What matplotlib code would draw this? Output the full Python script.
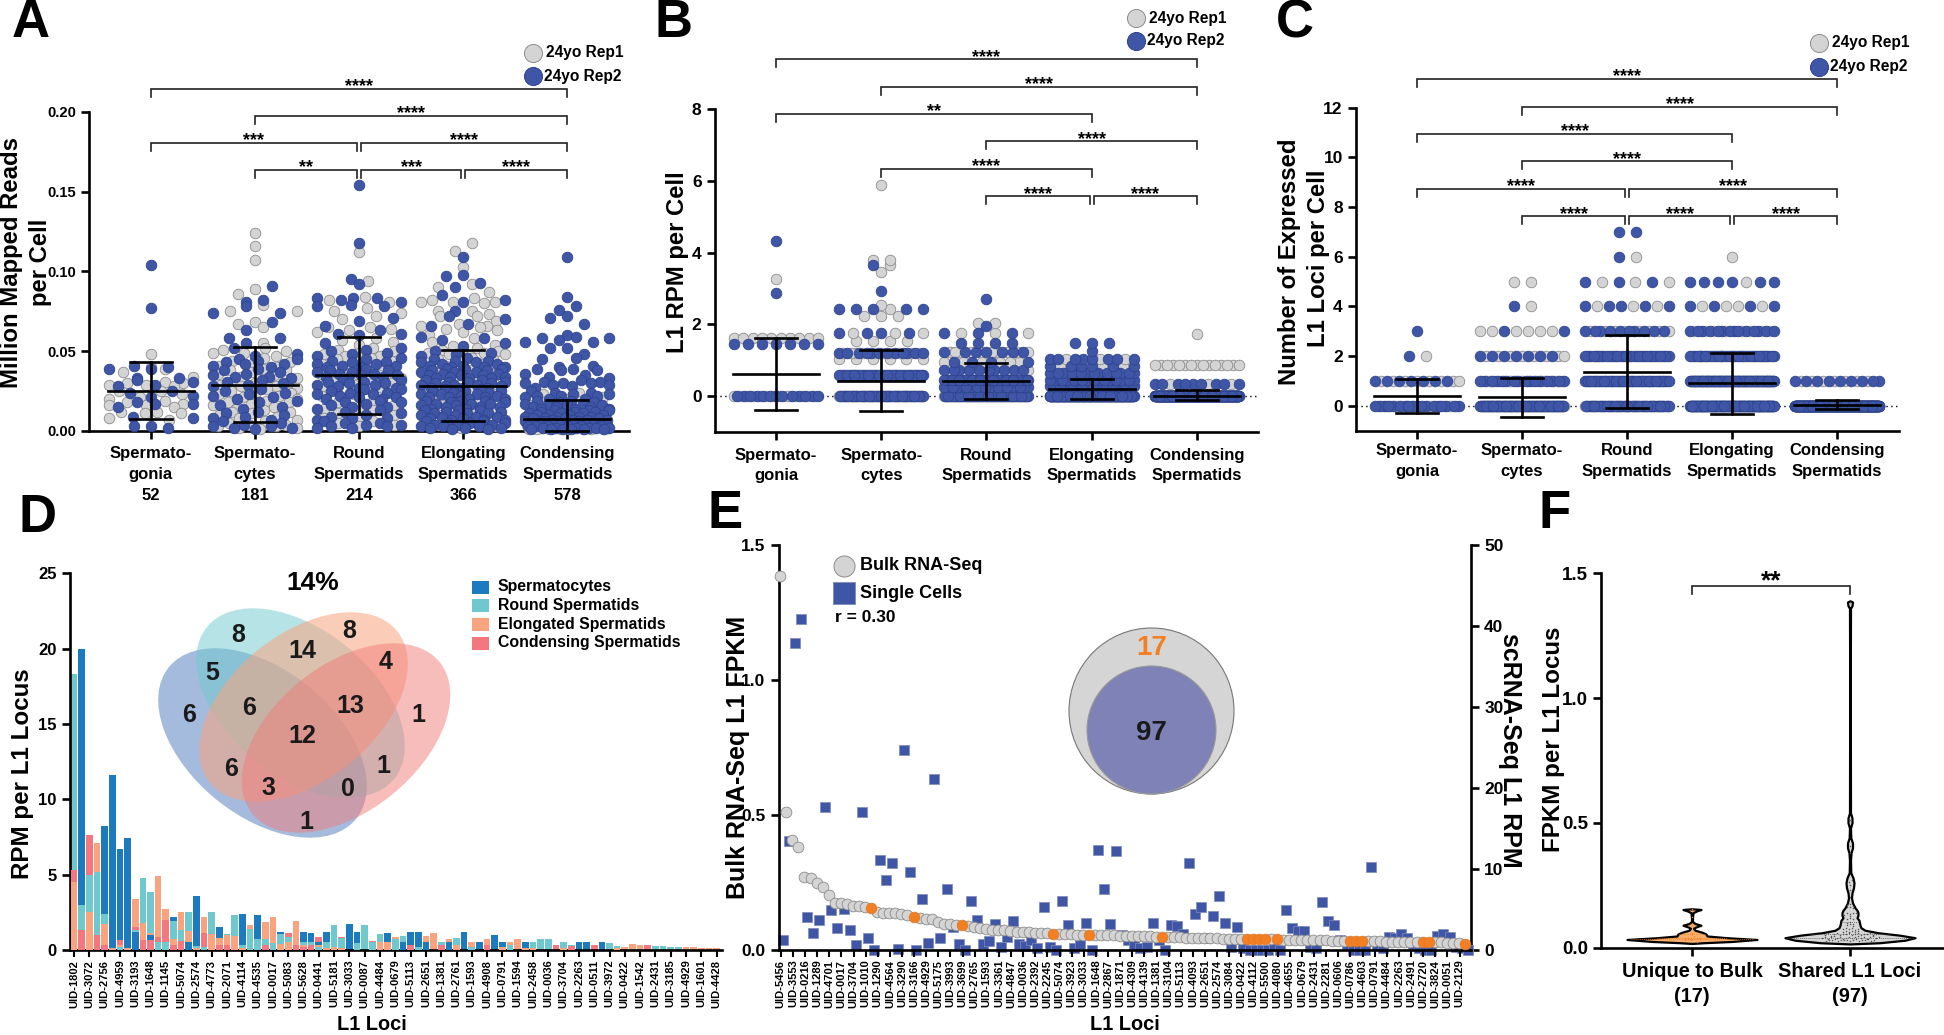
import numpy as np
import matplotlib
matplotlib.use("Agg")
import matplotlib.pyplot as plt
from matplotlib.patches import Ellipse, Rectangle

plt.rcParams['font.family'] = ['Liberation Sans', 'DejaVu Sans']
plt.rcParams['font.weight'] = 'bold'
plt.rcParams['axes.labelweight'] = 'bold'

W, H = 1944, 1035
GREY, GREY_E, BLUE, BLUE_E = '#D4D4D4', '#8C8C8C', '#3F56A6', '#2F4490'
ORANGE = '#F37F22'
C_SC, C_RS, C_ES, C_CS = '#1B7BBE', '#6EC8CE', '#F9A47F', '#F4777F'

STAGES = ['Spermato-\ngonia', 'Spermato-\ncytes', 'Round\nSpermatids', 'Elongating\nSpermatids', 'Condensing\nSpermatids']
STAGE_N = [52, 181, 214, 366, 578]

# ---------------- Panel A ----------------
A_SG_R1 = [.048, .040, .039, .037, .034, .031, .030, .030, .029, .029, .028, .025, .025, .023, .021,
           .020, .019, .018, .017, .016, .016, .015, .012, .012, .011, .011, .008, .007]
A_SG_R2 = [.104, .077, .041, .040, .039, .039, .033, .033, .032, .031, .029, .028, .025, .024, .022,
           .021, .018, .017, .017, .015, .009, .008, .003, .003, .002]
A_SC_R1 = [.124, .116, .107, .089, .086, .079, .075, .075, .068, .067, .065, .055, .052, .051, .050, .049, .049, .047,
           .046, .044, .043, .042, .041, .040, .039, .038, .038, .037, .036, .035, .034, .033, .032, .031, .031, .030,
           .029, .028, .028, .027, .026, .025, .024, .023, .023, .022, .021, .020, .019, .018, .018, .017, .016, .015,
           .014, .013, .012, .012, .011, .010, .009, .008, .007, .006, .005, .004, .004, .003, .003, .002, .002, .001]
A_SC_R2 = [.091, .082, .081, .078, .074, .074, .068, .063, .058, .058, .055, .052, .048, .047, .045, .045, .044, .043,
           .042, .042, .041, .040, .039, .038, .037, .036, .035, .034, .034, .033, .032, .031, .030, .029, .028, .026,
           .025, .024, .023, .022, .021, .020, .019, .018, .016, .015, .014, .012, .011, .010, .009, .008, .007, .006,
           .005, .004, .003, .003, .002, .002, .001]
A_RS_R1 = [.112, .094, .084, .082, .081, .077, .075, .074, .072, .070, .065, .065, .064, .063, .062, .058, .057, .056,
           .054, .052, .051, .050, .049, .048, .047, .047, .046, .045, .044, .043, .042, .041, .040, .039, .038, .037,
           .036, .036, .035, .034, .033, .032, .031, .030, .029, .028, .027, .026, .025, .024, .023, .022, .021, .020,
           .019, .018, .016, .015, .014, .013, .011, .010, .009, .008, .006, .005, .004, .003]
A_RS_R2 = [.154, .118, .095, .092, .083, .083, .083, .082, .081, .079, .078, .078, .071, .069, .066, .063, .061, .061,
           .060, .055, .052, .051, .050, .049, .048, .047, .046, .045, .044, .043, .043, .042, .042, .041, .041, .040,
           .040, .039, .038, .038, .037, .037, .036, .036, .035, .035, .034, .034, .033, .032, .032, .031, .031, .030,
           .030, .029, .029, .028, .027, .027, .026, .026, .025, .024, .024, .023, .023, .022, .021, .021, .020, .020,
           .019, .018, .018, .017, .016, .015, .015, .014, .013, .012, .011, .010, .009, .008, .008, .007, .006, .005,
           .005, .004, .004, .003, .003, .002, .002]
A_ES_R1 = [.118, .113, .103, .092, .090, .087, .083, .082, .081, .081, .081, .080, .075, .075, .073, .072, .072, .069,
           .067, .066, .066, .065, .064, .063, .062, .060, .058, .056, .054, .053, .052, .051, .050, .050, .049, .049,
           .048, .048, .047, .046, .045, .045, .044, .043, .042, .041, .040, .038, .037, .036, .035, .034, .033, .032,
           .030, .029, .027, .026, .024, .023, .021, .020, .018, .016, .014, .012, .010, .008, .006, .004, .003, .002]
A_ES_R2 = [.109, .098, .097, .093, .090, .085, .082, .081, .075, .072, .070, .067, .066, .059, .058, .057, .055, .053,
           .050, .049, .048, .047, .046, .045, .044, .044, .043, .043, .042, .042, .041, .041, .040, .040, .040, .039,
           .039, .039, .038, .038, .037, .037, .037, .036, .036, .035, .035, .035, .034, .034, .033, .033, .033, .032,
           .032, .031, .031, .031, .030, .030, .029, .029, .029, .028, .028, .027, .027, .027, .026, .026, .025, .025,
           .025, .024, .024, .023, .023, .023, .022, .022, .021, .021, .021, .020, .020, .019, .019, .019, .018, .018,
           .017, .017, .017, .016, .016, .015, .015, .015, .014, .014, .013, .013, .013, .012, .012, .011, .011, .011,
           .010, .010, .009, .009, .009, .008, .008, .007, .007, .007, .006, .006, .005, .005, .005, .004, .004, .004,
           .003, .003, .003, .002, .002, .002, .001, .001]
A_CS_R1 = [.024, .023, .021, .020, .019, .018, .017, .017, .016, .015, .015, .014, .013, .013, .012, .012, .011, .011,
           .010, .010, .010, .009, .009, .009, .008, .008, .008, .007, .007, .007, .006, .006, .006, .006, .005, .005,
           .005, .005, .004, .004, .004, .004, .004, .003, .003, .003, .003, .003, .002, .002, .002, .002, .002, .002,
           .001, .001, .001, .001, .001, .001, .001, .001]
A_CS_R2 = [.109, .084, .078, .076, .072, .071, .067, .060, .059, .058, .058, .057, .056, .056, .052, .052, .048, .046,
           .045, .041, .040, .039, .039, .038, .038, .036, .035, .034, .033, .032, .031, .031, .030, .030, .030, .029,
           .029, .028, .027, .025, .024, .024, .023, .023, .022, .022, .022, .021, .020, .020, .019, .019, .018, .018,
           .017, .017, .017, .016, .016, .015, .015, .015, .014, .014, .014, .013, .013, .013, .012, .012, .012, .011,
           .011, .011, .010, .010, .010, .010, .009, .009, .009, .009, .008, .008, .008, .008, .007, .007, .007, .007,
           .006, .006, .006, .006, .005, .005, .005, .005, .005, .004, .004, .004, .004, .004, .003, .003, .003, .003,
           .003, .003, .002, .002, .002, .002, .002, .002, .001, .001, .001, .001, .001, .001]
A_MEAN = [.0253, .029, .035, .0284, .0073]
A_HIGH = [.043, .0524, .059, .0507, .0196]
A_LOW = [.0075, .0058, .0109, .006, .0]

# ---------------- Panel B ----------------
B_SG_LV = [0, 1.45, 1.63, 2.88, 3.27, 4.33]
B_SG_R1 = [14, 0, 10, 0, 1, 0]
B_SG_R2 = [13, 7, 0, 1, 0, 1]
B_SC_LV = [0, .58, 1.03, 1.2, 1.53, 1.75, 2.24, 2.43, 2.55, 2.93, 3.45, 3.65, 3.8, 5.87]
B_SC_R1 = [40, 20, 6, 10, 4, 3, 3, 1, 1, 0, 1, 1, 2, 1]
B_SC_R2 = [35, 25, 0, 12, 0, 4, 0, 5, 0, 1, 0, 1, 0, 0]
B_RS_LV = [0, .25, .45, .72, .95, 1.22, 1.47, 1.75, 1.97, 2.03, 2.7]
B_RS_R1 = [40, 15, 18, 8, 6, 10, 0, 3, 0, 2, 0]
B_RS_R2 = [45, 25, 28, 10, 4, 7, 4, 3, 1, 0, 1]
B_ES_LV = [0, .28, .45, .65, .85, 1.05, 1.27, 1.49]
B_ES_R1 = [110, 25, 15, 6, 3, 3, 0, 0]
B_ES_R2 = [130, 30, 20, 14, 6, 8, 1, 3]
B_CS_LV = [0, .33, .88, 1.73]
B_CS_R1 = [270, 3, 15, 1]
B_CS_R2 = [280, 9, 0, 0]
B_MEAN = [.62, .43, .43, .2, .02]
B_HIGH = [1.62, 1.29, .94, .48, .18]
B_LOW = [-.38, -.42, -.06, -.07, -.11]

# ---------------- Panel C ----------------
C_LV = [0, 1, 2, 3, 4, 5, 6, 7]
C_SG_R1 = [16, 8, 1, 0, 0, 0, 0, 0]
C_SG_R2 = [18, 7, 1, 1, 0, 0, 0, 0]
C_SC_R1 = [70, 20, 8, 6, 1, 2, 0, 0]
C_SC_R2 = [50, 16, 7, 2, 1, 0, 0, 0]
C_RS_R1 = [35, 25, 15, 8, 3, 3, 1, 0]
C_RS_R2 = [40, 35, 25, 10, 5, 3, 1, 2]
C_ES_R1 = [60, 40, 15, 8, 4, 1, 1, 0]
C_ES_R2 = [100, 80, 30, 14, 4, 6, 0, 0]
C_CS_R1 = [260, 7, 0, 0, 0, 0, 0, 0]
C_CS_R2 = [290, 9, 0, 0, 0, 0, 0, 0]
C_MEAN = [.40, .35, 1.38, .9, .04]
C_HIGH = [1.07, 1.13, 2.86, 2.12, .24]
C_LOW = [-.27, -.44, -.1, -.31, -.13]

# ---------------- Panel D ----------------
D_LABELS = ['1802', '3072', '2756', '4959', '3193', '1648', '1145', '5074', '2574', '4773', '2071', '4114', '4535',
            '0017', '5083', '5628', '0441', '5181', '3033', '0087', '4484', '0679', '5113', '2651', '1381', '2761',
            '1593', '4908', '0791', '1594', '2458', '0036', '3704', '2263', '0511', '3972', '0422', '1542', '2431',
            '3185', '4929', '1601', '4428']
D_SC = [0, 20, 0, 0, 8.25, 11.6, 6.7, 7.4, 1.2, 0, 1.0, 0, 0, 2.2, 0, .5, 3.6, 0, 0, 1.55, 0, 0, 2.4, 0, 2.35, 0, 0, 1.2,
        0, 0, 1.2, 1.15, .5, 1.2, 0, 0, 1.7, 1.2, 0, 0, 0, 1.1, 0, .55, 1.2, 1.2, .5, 0, 0, .5, 0, 1.2, 0, .5, 0, 1.0,
        .55, 0, 0, .55, 0, 0, 0, 0, 0, 0, .55, .55, 0, .5, 0, 0, 0, 0, 0, 0, 0, 0, 0, 0, 0, 0, 0, 0, 0]
D_RS = [18.3, 3.0, 5.0, 5.2, 2.4, 0, .2, 0, 1.3, 4.75, 3.85, .5, .5, 1.9, 1.3, 2.55, .25, .2, 2.55, .8, 1.05, 2.3, .3,
        1.4, .75, .7, .45, 1.05, .85, 0, .55, .5, .2, .5, 1.65, .8, 0, .45, 1.65, .55, 1.05, 0, .75, .95, 0, .2, 0, 0,
        .5, 0, .8, 0, .2, 0, 0, 0, 0, .3, 0, 0, .5, .7, .7, 0, .5, .3, 0, 0, 0, 0, .45, .25, 0, 0, 0, 0, .25, .25, .2,
        .2, 0, 0, 0, 0, 0]
D_ES = [4.5, 0, 2.5, 7.1, 1.7, .15, .35, .15, 3.4, 1.8, 1.1, 4.9, 2.75, .75, 2.55, 1.25, .15, 2.2, 1.05, .8, 1.0, .95,
        .15, 1.65, 0, 1.85, 2.2, .4, .55, 1.95, .3, .35, .35, .15, .2, .15, 0, 0, 0, 0, .55, .5, .85, 0, 0, 0, .95, 1.15,
        0, .7, .35, 0, .55, 0, .7, 0, .2, .55, .75, .15, .15, 0, 0, 0, .15, 0, 0, 0, 0, 0, 0, .15, .2, .4, .3, 0, 0, 0,
        0, 0, .2, .2, .15, .15, .15]
D_CS = [5.3, 1.3, 7.6, 1.0, .3, 0, .65, 0, 1.5, .65, .65, .85, 2.0, .3, .6, 0, 0, 1.15, 0, .3, .3, 0, 0, 0, 0, .3, 0, 0,
        1.15, .3, .2, .3, .85, 0, 0, .85, 0, 0, 0, .6, 0, 0, 0, 0, .3, 0, 0, 0, .3, 0, 0, 0, 0, 0, .3, 0, 0, 0, 0, 0, 0,
        0, 0, .3, 0, .25, 0, 0, .3, 0, 0, 0, 0, 0, 0, .3, 0, 0, 0, 0, 0, 0, 0, 0, 0]
D_SERIES = ['Spermatocytes', 'Round Spermatids', 'Elongated Spermatids', 'Condensing Spermatids']
VENN_COUNTS = ['8', '8', '14', '5', '4', '6', '6', '13', '1', '12', '6', '3', '0', '1', '1']

# ---------------- Panel E ----------------
E_LABELS = ['5456', '3553', '0216', '1289', '4701', '0017', '3704', '1010', '1290', '4564', '3290', '3166', '4929',
            '5175', '3993', '3699', '2765', '1593', '3361', '4847', '0036', '2392', '2245', '5074', '3923', '3033',
            '1648', '2867', '1871', '4309', '4139', '1381', '3104', '5113', '4093', '2651', '2574', '3084', '0422',
            '4112', '5500', '4080', '4655', '0679', '2431', '2281', '0606', '0786', '4603', '0791', '4484', '2263',
            '2491', '2720', '3824', '0051', '2129']
E_BULK = [1.385, .51, .407, .38, .272, .265, .25, .232, .204, .175, .173, .169, .164, .163, .16, .155, .14, .138, .138,
          .136, .133, .128, .121, .117, .116, .114, .102, .098, .096, .094, .091, .089, .086, .08, .077, .075, .074,
          .073, .072, .068, .067, .065, .062, .062, .062, .06, .059, .058, .058, .057, .057, .056, .055, .055, .054,
          .054, .053, .053, .053, .052, .052, .051, .05, .047, .049, .048, .047, .046, .045, .044, .044, .043, .043,
          .042, .042, .042, .041, .04, .04, .04, .04, .039, .039, .038, .038, .037, .037, .037, .036, .036, .036, .035,
          .035, .035, .034, .034, .034, .032, .032, .032, .031, .031, .031, .03, .03, .03, .03, .03, .028, .028, .027,
          .027, .026, .024]
E_SC = [1.2, 13.4, 37.9, 40.9, 4.1, 2.06, 3.7, 17.6, 4.9, 2.7, 5.1, 2.5, .66, 17, 1.44, 0, 11.1, 8.7, 10.8, .16, 24.7,
        9.6, 0, 6.25, .9, 21.1, 1.44, 7.5, 2.9, .7, 0, 6, 3.7, .8, 1.15, 3.2, .4, 1.65, 3.6, .8, .5, 1.2, .2, 5.3, .33, 0,
        6, 3.1, .3, .74, 3.3, 0, 12.4, 7.5, 3.2, 12.2, 1.85, 1.2, .6, .3, .4, 3.37, 1.2, 0, 3.1, 3, 2, 10.8, 4.4, 5.3, 1.5,
        4.2, 6.7, 3.3, .4, 2.9, .2, 0, 0, 0, 0, .5, 0, 5, 2.75, 2.4, 2.35, .4, .2, 5.9, 3.6, 3.1, 1.2, .8, 0, 0, 0, 10.2,
        .6, .2, 1.65, 1.45, 2, 1.45, .8, .3, 0, 0, 1.7, 2, 1.65, .4, .2, 0]
E_UNIQUE_RANK = [16, 23, 31, 46, 52, 64, 78, 79, 80, 81, 83, 95, 96, 97, 107, 108, 114]

# ---------------- Panel F ----------------
F_CATS = ['Unique to Bulk\n(17)', 'Shared L1 Loci\n(97)']
F_UNIQUE_Y = [.017, .02, .025, .033, .04, .047, .055, .062, .07, .078, .083, .09, .097, .105, .12, .14, .148, .153, .156]
F_UNIQUE_W = [0, 12, 40, 65, 35, 15, 14, 10, 3, 1.5, 4, 9, 3, .5, .5, 1, 5, 9, 0]
F_SHARED_Y = [.015, .02, .03, .04, .05, .06, .07, .08, .09, .10, .11, .12, .13, .14, .15, .16, .18, .2, .22, .24, .26,
              .28, .30, .35, .38, .40, .42, .44, .48, .5, .52, .54, .8, 1.2, 1.36, 1.37, 1.385, 1.39]
F_SHARED_W = [0, 30, 55, 65, 50, 28, 15, 11, 10, 9.5, 9, 7, 8, 8, 7, 5, 2.5, 1.5, 2, 3.5, 4, 3, .8, .5, 1, 2.5, 2.5, .8,
              .5, 2, 2, .5, .4, .4, .5, 2, 2.5, 0]


# ---------------- helpers ----------------
fig = plt.figure(figsize=(W / 100, H / 100), dpi=100, facecolor='white')


def axpx(x0, x1, ytop, ybot, **kw):
    return fig.add_axes([x0 / W, 1 - ybot / H, (x1 - x0) / W, (ybot - ytop) / H], **kw)


ov = fig.add_axes([0, 0, 1, 1], zorder=50)
ov.set_xlim(0, W)
ov.set_ylim(H, 0)
ov.axis('off')
ov.patch.set_alpha(0)


def style(ax, size=12, lw=1.9):
    for s in ('top', 'right'):
        ax.spines[s].set_visible(False)
    for s in ('left', 'bottom', 'right'):
        ax.spines[s].set_linewidth(lw)
    ax.tick_params(axis='both', width=lw, length=6, labelsize=size)
    ax.patch.set_alpha(0)


def spaced(ax, sp):
    for lab in ax.get_xticklabels():
        lab.set_linespacing(sp)


def offsets(r1, r2, binh, span=84, pitch=17):
    """Swarm layout: points in one y bin sit on a centred row; reps are mixed along the row."""
    vals = np.concatenate([r1, r2])
    rep = np.concatenate([np.zeros(len(r1)), np.ones(len(r2))]).astype(int)
    off = np.zeros(len(vals))
    bins = np.floor(vals / binh + 1e-9)
    for b in np.unique(bins):
        idx = np.where(bins == b)[0]
        keys = ((np.arange(len(idx)) + 1) * 0.618034) % 1
        idx = idx[np.argsort(keys, kind='stable')]
        n = len(idx)
        if n > 1:
            p = min(pitch, span / (n - 1))
            off[idx] = p * (np.arange(n) - (n - 1) / 2)
    return vals, rep, off


def beeswarm(ax, groups, means, highs, lows, binh, spacing):
    for i, (r1, r2) in enumerate(groups):
        vals, rep, off = offsets(np.asarray(r1, float), np.asarray(r2, float), binh)
        x = i + off / spacing
        ax.scatter(x[rep == 0], vals[rep == 0], s=58, c=GREY, edgecolors=GREY_E, linewidths=.6, zorder=3, clip_on=False)
        ax.scatter(x[rep == 1], vals[rep == 1], s=58, c=BLUE, edgecolors=BLUE_E, linewidths=.6, zorder=4, clip_on=False)
        ax.plot([i - 43 / spacing, i + 43 / spacing], [means[i]] * 2, color='k', lw=1.9, zorder=6, clip_on=False)
        for v in (highs[i], lows[i]):
            ax.plot([i - 21 / spacing, i + 21 / spacing], [v] * 2, color='k', lw=1.9, zorder=6, clip_on=False)
        ax.plot([i, i], [lows[i], highs[i]], color='k', lw=1.9, zorder=6, clip_on=False)


def bracket(x0, x1, y, stars, drop=8, size=13):
    ov.plot([x0, x0, x1, x1], [y + drop, y, y, y + drop], color='#222222', lw=1.2, solid_joinstyle='miter')
    ov.text((x0 + x1) / 2, y + 2.5, stars, ha='center', va='baseline', fontsize=size, color='k')


def rep_legend(x, y1, y2, tx):
    ov.scatter([x], [y1], s=170, c=GREY, edgecolors=GREY_E, linewidths=.7)
    ov.scatter([x], [y2], s=170, c=BLUE, edgecolors=BLUE_E, linewidths=.7)
    ov.text(tx, y1, '24yo Rep1', va='center', fontsize=11.2)
    ov.text(tx - 2, y2, '24yo Rep2', va='center', fontsize=11.2)


def letter(x, y, s):
    ov.text(x, y, s, ha='left', va='baseline', fontsize=38)


def rep(lv, ct):
    return np.repeat(lv, ct)


# ---------------- A ----------------
cA = [150.6 + 104.2 * i for i in range(5)]
axA = axpx(89, 629, 111.7, 431)
style(axA, 10.6)
axA.set_xlim((89 - cA[0]) / 104.2, (629 - cA[0]) / 104.2)
axA.set_ylim(0, .2)
axA.set_yticks([0, .05, .1, .15, .2], ['0.00', '0.05', '0.10', '0.15', '0.20'])
axA.set_xticks(range(5), [f'{s}\n{n}' for s, n in zip(STAGES, STAGE_N)], fontsize=12)
axA.tick_params(axis='x', pad=5)
spaced(axA, 1.48)
groupsA = [(A_SG_R1, A_SG_R2), (A_SC_R1, A_SC_R2), (A_RS_R1, A_RS_R2), (A_ES_R1, A_ES_R2), (A_CS_R1, A_CS_R2)]
beeswarm(axA, groupsA, A_MEAN, A_HIGH, A_LOW, .0066, 104.2)
for a, b, y, s in [(0, 4, 89, '****'), (1, 4, 116, '****')]:
    bracket(cA[a], cA[b], y, s)
bracket(cA[0], cA[2] - 2, 143, '***')
bracket(cA[2] + 2, cA[4], 143, '****')
bracket(cA[1], cA[2] - 2, 170, '**')
bracket(cA[2] + 2, cA[3] - 2, 170, '***')
bracket(cA[3] + 2, cA[4], 170, '****')
rep_legend(532.6, 53, 76, 546)
ov.text(12, 262, 'Million Mapped Reads', rotation=90, ha='center', va='center', fontsize=17.2)
ov.text(40, 262, 'per Cell', rotation=90, ha='center', va='center', fontsize=17.2)
letter(12, 37, 'A')

# ---------------- B ----------------
cB = [776 + 105.2 * i for i in range(5)]
axB = axpx(714.7, 1258, 108.7, 432.3)
style(axB, 12.5)
axB.set_xlim((714.7 - cB[0]) / 105.2, (1258 - cB[0]) / 105.2)
axB.set_ylim(-1, 8)
axB.set_yticks([0, 2, 4, 6, 8])
axB.spines['left'].set_bounds(-1, 8)
axB.set_xticks(range(5), STAGES, fontsize=12)
axB.tick_params(axis='x', pad=5)
spaced(axB, 1.48)
axB.axhline(0, color='k', lw=1, ls=(0, (1, 2.5)), zorder=1)
groupsB = [(rep(B_SG_LV, B_SG_R1), rep(B_SG_LV, B_SG_R2)), (rep(B_SC_LV, B_SC_R1), rep(B_SC_LV, B_SC_R2)),
           (rep(B_RS_LV, B_RS_R1), rep(B_RS_LV, B_RS_R2)), (rep(B_ES_LV, B_ES_R1), rep(B_ES_LV, B_ES_R2)),
           (rep(B_CS_LV, B_CS_R1), rep(B_CS_LV, B_CS_R2))]
beeswarm(axB, groupsB, B_MEAN, B_HIGH, B_LOW, .1, 105.2)
bracket(cB[0], cB[4], 59.3, '****')
bracket(cB[1], cB[4], 86.7, '****')
bracket(cB[0], cB[3], 114, '**')
bracket(cB[2], cB[4], 141.3, '****')
bracket(cB[1], cB[3], 169, '****')
bracket(cB[2], cB[3] - 2, 196.3, '****')
bracket(cB[3] + 2, cB[4], 196.3, '****')
rep_legend(1136, 18, 41, 1149)
ov.text(677, 262, 'L1 RPM per Cell', rotation=90, ha='center', va='center', fontsize=17.2)
letter(654, 37, 'B')

# ---------------- C ----------------
cC = [1417 + 105 * i for i in range(5)]
axC = axpx(1356, 1899, 107.7, 430.7)
style(axC, 12.5)
axC.set_xlim((1356 - cC[0]) / 105, (1899 - cC[0]) / 105)
axC.set_ylim(-1, 12)
axC.set_yticks([0, 2, 4, 6, 8, 10, 12])
axC.set_xticks(range(5), STAGES, fontsize=12)
axC.tick_params(axis='x', pad=3)
spaced(axC, 1.48)
axC.axhline(0, color='k', lw=1, ls=(0, (1, 2.5)), zorder=1)
groupsC = [(rep(C_LV, C_SG_R1), rep(C_LV, C_SG_R2)), (rep(C_LV, C_SC_R1), rep(C_LV, C_SC_R2)),
           (rep(C_LV, C_RS_R1), rep(C_LV, C_RS_R2)), (rep(C_LV, C_ES_R1), rep(C_LV, C_ES_R2)),
           (rep(C_LV, C_CS_R1), rep(C_LV, C_CS_R2))]
beeswarm(axC, groupsC, C_MEAN, C_HIGH, C_LOW, .5, 105)
bracket(cC[0], cC[4], 79, '****')
bracket(cC[1], cC[4], 106.7, '****')
bracket(cC[0], cC[3], 134, '****')
bracket(cC[1], cC[3], 161.3, '****')
bracket(cC[0], cC[2] - 2, 188.7, '****')
bracket(cC[2] + 2, cC[4], 188.7, '****')
bracket(cC[1], cC[2] - 2, 216.3, '****')
bracket(cC[2] + 2, cC[3] - 2, 216.3, '****')
bracket(cC[3] + 2, cC[4], 216.3, '****')
rep_legend(1818.5, 43, 66.7, 1832)
ov.text(1289, 262, 'Number of Expressed', rotation=90, ha='center', va='center', fontsize=17.2)
ov.text(1318, 258, 'L1 Loci per Cell', rotation=90, ha='center', va='center', fontsize=17.2)
letter(1276, 37, 'C')

# ---------------- D ----------------
PITCH_D = 7.65
axD = axpx(70, 722, 573.3, 950)
style(axD, 12)
axD.set_xlim(-4 / PITCH_D, 648 / PITCH_D)
axD.set_ylim(0, 25)
axD.set_yticks([0, 5, 10, 15, 20, 25])
axD.set_xticks(range(0, 85, 2), ['UID-' + s for s in D_LABELS], rotation=90, fontsize=8)
axD.tick_params(axis='x', pad=2, length=5, width=1.5)
series = np.array([D_SC, D_RS, D_ES, D_CS])
for sv, col in zip(series, [C_SC, C_RS, C_ES, C_CS]):
    bars = axD.bar(np.arange(85), sv, width=.87, color=col, linewidth=0)
    for j, b in enumerate(bars):
        b.set_zorder(2 + np.sum(series[:, j] > sv[j]))
ov.text(371.5, 1025, 'L1 Loci', ha='center', va='center', fontsize=14.4)
ov.text(23, 774, 'RPM per L1 Locus', rotation=90, ha='center', va='center', fontsize=17.4)
letter(18, 532, 'D')
# Venn
for (cx, cy, ang, col, al) in [(262.5, 743, 39, '#5B83C3', .55), (300.5, 703, 39, C_RS, .5),
                               (303.5, 707, -39, C_ES, .55), (346, 738, -39, '#F07C78', .5)]:
    ov.add_patch(Ellipse((cx, cy), 241, 146, angle=ang, facecolor=col, alpha=al, edgecolor='none', zorder=1))
venn_xy = [(237.7, 635), (349, 631), (302.7, 651), (212.3, 673), (385.3, 662), (188.7, 715), (249.3, 708), (350.7, 706),
           (418, 715), (302.7, 736), (230.7, 769), (268.3, 788), (348.3, 789), (383.3, 766), (306.7, 822)]
for (vx, vy), s in zip(venn_xy, VENN_COUNTS):
    ov.text(vx, vy, s, ha='center', va='center', fontsize=18, color='#1a1a1a', zorder=3)
ov.text(312.7, 583, '14%', ha='center', va='center', fontsize=19)
for y, s, col in zip([587, 605.5, 624, 643], D_SERIES, [C_SC, C_RS, C_ES, C_CS]):
    ov.add_patch(Rectangle((472, y - 6.5), 16.5, 13, facecolor=col, edgecolor='none'))
    ov.text(497.7, y, s, va='center', fontsize=11.4)

# ---------------- E ----------------
PITCH_E = 6.06
axE = axpx(778.7, 1471, 545, 950)
style(axE, 12.5)
axE.set_xlim((778.7 - 780.2) / PITCH_E, (1471 - 780.2) / PITCH_E)
axE.set_ylim(0, 1.5)
axE.set_yticks([0, .5, 1, 1.5], ['0.0', '0.5', '1.0', '1.5'])
axE.set_xticks(np.arange(0, 114, 2) + .1, ['UID-' + s for s in E_LABELS], rotation=90, fontsize=8)
axE.tick_params(axis='x', pad=2, length=5, width=1.5)
axE2 = axE.twinx()
style(axE2, 12.5)
axE2.spines['right'].set_visible(True)
axE2.spines['left'].set_visible(False)
axE2.spines['bottom'].set_visible(False)
axE2.set_ylim(0, 50)
axE2.set_yticks([0, 10, 20, 30, 40, 50])
idx = np.arange(len(E_BULK))
axE2.scatter(idx + .45, E_SC, marker='s', s=60, c=BLUE, edgecolors='#7f8ab8', linewidths=.5, zorder=3, clip_on=False)
axE2.set_zorder(2)
axE.set_zorder(3)
is_u = np.isin(idx + 1, E_UNIQUE_RANK)
bulk = np.array(E_BULK)
axE.scatter(idx[~is_u], bulk[~is_u], s=60, c=GREY, edgecolors=GREY_E, linewidths=.6, zorder=4, clip_on=False)
axE.scatter(idx[is_u], bulk[is_u], s=60, c=ORANGE, edgecolors='#D97A30', linewidths=.5, zorder=5, clip_on=False)
ov.text(1124.6, 1025, 'L1 Loci', ha='center', va='center', fontsize=14.4)
ov.text(738, 757, 'Bulk RNA-Seq L1 FPKM', rotation=90, ha='center', va='center', fontsize=18)
ov.text(1510, 750, 'scRNA-Seq L1 RPM', rotation=270, ha='center', va='center', fontsize=18)
letter(707, 528, 'E')
ov.scatter([844], [566], s=230, c=GREY, edgecolors=GREY_E, linewidths=.7)
ov.scatter([844], [593], s=230, marker='s', c=BLUE, edgecolors='#7f8ab8', linewidths=.6)
ov.text(860, 565, 'Bulk RNA-Seq', va='center', fontsize=13)
ov.text(860, 593, 'Single Cells', va='center', fontsize=13)
ov.text(835, 618, 'r = 0.30', va='center', fontsize=12.5)
ov.add_patch(Ellipse((1151.5, 711), 165, 166, facecolor='#D5D5D5', edgecolor='#777777', lw=.8))
ov.add_patch(Ellipse((1151.5, 730), 129, 128, facecolor='#7E82B6', edgecolor='#999999', lw=.8))
ov.text(1151.6, 648, str(len(E_UNIQUE_RANK)), ha='center', va='center', fontsize=20, color=ORANGE)
ov.text(1151.6, 733, str(len(E_BULK) - len(E_UNIQUE_RANK)), ha='center', va='center', fontsize=20, color='#1a1a1a')

# ---------------- F ----------------
SP_F = 158.0
axF = axpx(1601, 1943, 573.3, 947.7)
style(axF, 13.5)
axF.set_xlim((1601 - 1692) / SP_F, (1943 - 1692) / SP_F)
axF.set_ylim(0, 1.5)
axF.set_yticks([0, .5, 1, 1.5], ['0.0', '0.5', '1.0', '1.5'])
axF.set_xticks([0, 1], F_CATS, fontsize=14.4)
axF.tick_params(axis='x', pad=4)
spaced(axF, 1.43)


def violin(ax, i, ys, ws, vals, fill, dot):
    ys, ws = np.array(ys), np.array(ws) / SP_F
    ax.fill_betweenx(ys, i - ws, i + ws, facecolor=fill, edgecolor='k', lw=1.6, zorder=3, clip_on=False)
    for q in (25, 50, 75):
        v = np.percentile(vals, q)
        w = np.interp(v, ys, ws)
        ax.plot([i - w, i + w], [v, v], color=dot, lw=.6, ls=(0, (1, 1.5)), zorder=4)
    _, _, off = offsets(np.asarray(vals, float), np.array([]), .012, span=60, pitch=3)
    ax.scatter(i + off / SP_F, vals, s=1.2, c=dot, linewidths=0, zorder=5)


violin(axF, 0, F_UNIQUE_Y, F_UNIQUE_W, bulk[is_u], '#F8AE6C', ORANGE)
violin(axF, 1, F_SHARED_Y, F_SHARED_W, bulk[~is_u], '#D6D6D6', '#555555')
bracket(1692, 1850, 585.7, '**', size=19)
ov.text(1553, 739, 'FPKM per L1 Locus', rotation=90, ha='center', va='center', fontsize=17.4)
letter(1538, 528, 'F')

fig.savefig('out.png', dpi=100)
